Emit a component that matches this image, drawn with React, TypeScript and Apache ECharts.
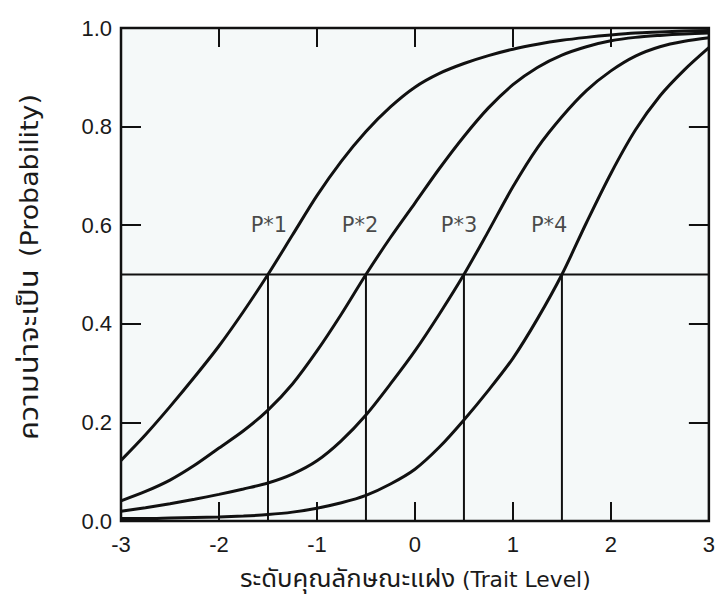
import React, { useEffect, useRef } from "react";
import * as echarts from "echarts";

const thetas = [
  -3, -2.75, -2.5, -2.25, -2, -1.75, -1.5, -1.25, -1, -0.75, -0.5, -0.25, 0,
  0.25, 0.5, 0.75, 1, 1.25, 1.5, 1.75, 2, 2.25, 2.5, 2.75, 3,
];
// Probabilities for each boundary curve
const probP1 = [
  0.123, 0.175, 0.232, 0.292, 0.355, 0.425, 0.5, 0.58, 0.66, 0.73, 0.79, 0.84, 0.88,
  0.908, 0.928, 0.944, 0.957, 0.967, 0.975, 0.981, 0.986, 0.99, 0.992, 0.994, 0.995,
];
const probP2 = [
  0.041, 0.06, 0.083, 0.113, 0.148, 0.183, 0.225, 0.278, 0.345, 0.42, 0.5, 0.575, 0.645,
  0.715, 0.78, 0.838, 0.885, 0.92, 0.945, 0.962, 0.974, 0.981, 0.985, 0.988, 0.99,
];
const probP3 = [
  0.02, 0.027, 0.035, 0.044, 0.054, 0.065, 0.077, 0.095, 0.122, 0.163, 0.215, 0.278, 0.345,
  0.42, 0.5, 0.588, 0.678, 0.757, 0.82, 0.873, 0.913, 0.943, 0.962, 0.973, 0.98,
];
const probP4 = [
  0.005, 0.005, 0.006, 0.007, 0.008, 0.01, 0.013, 0.018, 0.026, 0.037, 0.052, 0.075, 0.105,
  0.15, 0.205, 0.265, 0.33, 0.41, 0.5, 0.605, 0.705, 0.793, 0.862, 0.915, 0.96,
];
const curves = [probP1, probP2, probP3, probP4];

const thresholds = [-1.5, -0.5, 0.5, 1.5];
const halfProb = 0.5;
const labelNames = ["P*1", "P*2", "P*3", "P*4"];
const labelX = [-1.49, -0.56, 0.45, 1.37];
const labelY = 0.6;

const xTicks = [-3, -2, -1, 0, 1, 2, 3];
const yTicks = [0, 0.2, 0.4, 0.6, 0.8, 1.0];

const xTitleThai = "ระดับคุณลักษณะแฝง";
const xTitleEn = "(Trait Level)";
const yTitleThai = "ความน่าจะเป็น";
const yTitleEn = "(Probability)";

const INK = "#111";
const TEXT = "#1a1a1a";
const THAI_FONT = "Tahoma, 'Noto Sans Thai', 'Noto Sans Thai Looped', Garuda, Loma, 'DejaVu Sans', sans-serif";
const LATIN_FONT = "'DejaVu Sans', Verdana, sans-serif";

export default function App() {
  const ref = useRef<HTMLDivElement>(null);
  useEffect(() => {
    if (!ref.current) return;
    const chart = echarts.init(ref.current, undefined, { renderer: "svg" });
    const xMin = xTicks[0];
    const xMax = xTicks[xTicks.length - 1];
    const yMin = yTicks[0];
    const yMax = yTicks[yTicks.length - 1];
    const tickBase = {
      show: true,
      inside: true,
      length: 19,
      lineStyle: { color: INK, width: 2 },
    };
    const noLine = { show: false, onZero: false };
    const series: any[] = [];
    curves.forEach((c, i) => {
      series.push({
        type: "line",
        name: labelNames[i],
        data: thetas.map((t, j) => [t, c[j]]),
        smooth: 0.3,
        showSymbol: false,
        symbol: "none",
        lineStyle: { color: INK, width: 3 },
        z: 3,
      });
    });
    series.push({
      type: "line",
      data: [[xMin, halfProb], [xMax, halfProb]],
      showSymbol: false,
      symbol: "none",
      lineStyle: { color: INK, width: 2 },
      z: 2,
    });
    thresholds.forEach((t) => {
      series.push({
        type: "line",
        data: [[t, yMin], [t, halfProb]],
        showSymbol: false,
        symbol: "none",
        lineStyle: { color: INK, width: 2 },
        z: 2,
      });
    });
    series.push({
      type: "scatter",
      data: labelNames.map((n, i) => [labelX[i], labelY, n]),
      symbolSize: 0,
      label: {
        show: true,
        position: "inside",
        formatter: (p: any) => p.value[2],
        fontFamily: LATIN_FONT,
        fontSize: 21,
        color: TEXT,
      },
      z: 4,
    });

    const tickLabel = {
      fontFamily: "'Liberation Sans', Arial, sans-serif",
      fontSize: 22,
      color: TEXT,
    };

    const titleText = (
      text: string, x: number, y: number, rot: number, font: string, size: number, sx: number
    ) => ({
      type: "text",
      x,
      y,
      rotation: rot,
      scaleX: sx,
      style: {
        text,
        align: "left",
        verticalAlign: "middle",
        fontFamily: font,
        fontSize: size,
        fill: TEXT,
      },
    });

    chart.setOption({
      animation: false,
      backgroundColor: "#ffffff",
      grid: {
        left: 121,
        right: 6,
        top: 28,
        bottom: 82,
        show: true,
        backgroundColor: "#f5f9f9",
        borderColor: INK,
        borderWidth: 2.5,
      },
      xAxis: [
        {
          type: "value",
          min: xMin,
          max: xMax,
          interval: 1,
          position: "bottom",
          axisLine: noLine,
          splitLine: { show: false },
          axisTick: tickBase,
          axisLabel: {
            ...tickLabel,
            margin: 12,
            formatter: (v: number) => String(v),
          },
        },
        {
          type: "value",
          min: xMin,
          max: xMax,
          interval: 1,
          position: "top",
          axisLine: noLine,
          splitLine: { show: false },
          axisTick: tickBase,
          axisLabel: { show: false },
        },
      ],
      yAxis: [
        {
          type: "value",
          min: yMin,
          max: yMax,
          interval: 0.2,
          position: "left",
          axisLine: noLine,
          splitLine: { show: false },
          axisTick: { ...tickBase, length: 20 },
          axisLabel: {
            ...tickLabel,
            margin: 9,
            formatter: (v: number) => v.toFixed(1),
          },
        },
        {
          type: "value",
          min: yMin,
          max: yMax,
          interval: 0.2,
          position: "right",
          axisLine: noLine,
          splitLine: { show: false },
          axisTick: { ...tickBase, length: 20 },
          axisLabel: { show: false },
        },
      ],
      series,
      graphic: [
        titleText(xTitleThai, 240, 580, 0, THAI_FONT, 24, 1.07),
        titleText(xTitleEn, 462, 580, 0, LATIN_FONT, 21, 1.04),
        titleText(yTitleThai, 30, 440, Math.PI / 2, THAI_FONT, 26, 1.19),
        titleText(yTitleEn, 30, 257, Math.PI / 2, LATIN_FONT, 24, 1.12),
      ],
    });
    return () => chart.dispose();
  }, []);
  return (
    <div
      ref={ref}
      style={{ position: "fixed", left: 0, top: 0, width: 718, height: 603 }}
    />
  );
}
